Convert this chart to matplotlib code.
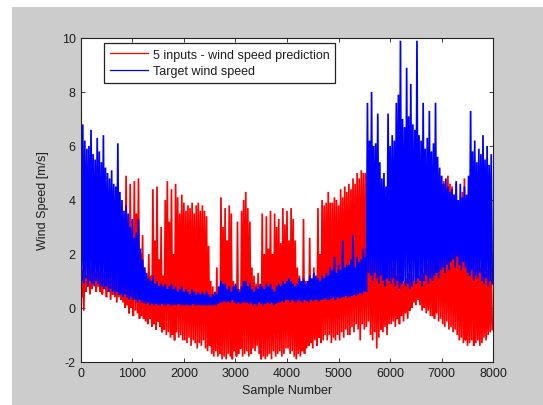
import numpy as np
import matplotlib
matplotlib.use("Agg")
import matplotlib.pyplot as plt
from matplotlib.patches import Rectangle

plt.rcParams['font.family'] = ['Liberation Sans', 'DejaVu Sans']
plt.rcParams['axes.unicode_minus'] = False

# ---- data (local maxima at k*40, local minima at k*40+20) ----
step = 40
pred_hi = [
    2.0, 1.4, 1.6, 1.2, 1.9, 1.5, 2.5, 1.3, 1.7, 1.4,
    1.8, 1.3, 1.6, 3.4, 1.5, 1.2, 1.6, 1.4, 1.5, 1.3,
    2.2, 1.8, 4.9, 3.0, 4.6, 2.5, 4.7, 3.5, 4.8, 2.0,
    2.7, 1.5, 1.0, 2.0, 1.2, 4.4, 2.5, 4.5, 1.8, 3.0,
    1.2, 4.0, 4.7, 3.2, 4.4, 2.0, 4.6, 4.1, 3.5, 4.2,
    3.9, 3.6, 3.8, 3.7, 3.9, 3.5, 3.8, 3.9, 3.6, 3.8,
    3.6, 3.4, 2.3, 1.0, 0.8, 0.6, 1.5, 0.7, 4.1, 3.0,
    3.7, 2.5, 3.8, 3.5, 1.0, 0.8, 3.2, 0.7, 3.6, 4.0,
    4.3, 3.7, 3.2, 1.5, 1.2, 0.9, 1.3, 0.8, 3.5, 2.0,
    3.4, 2.2, 3.6, 2.0, 3.5, 3.0, 3.3, 2.4, 3.7, 3.1,
    3.6, 2.5, 3.7, 3.3, 2.5, 1.5, 1.2, 0.8, 3.3, 1.0,
    1.0, 2.6, 0.9, 1.5, 0.9, 3.7, 2.0, 4.0, 3.8, 3.9,
    4.3, 3.9, 3.9, 4.1, 4.0, 3.8, 4.4, 4.1, 4.5, 4.3,
    4.6, 4.4, 4.8, 4.6, 5.0, 4.8, 5.1, 5.0, 5.0, 4.9,
    4.9, 4.7, 4.6, 4.8, 4.4, 4.0, 2.0, 1.6, 1.5, 2.2,
    2.0, 1.5, 1.8, 1.2, 3.3, 1.4, 1.2, 1.0, 1.1, 1.3,
    2.7, 1.2, 1.0, 1.4, 1.2, 1.5, 1.3, 2.0, 1.6, 2.2,
    3.0, 2.5, 4.8, 4.5, 4.9, 4.6, 4.7, 4.4, 4.9, 4.6,
    4.5, 4.2, 4.6, 3.5, 3.0, 4.3, 4.8, 2.5, 2.0, 3.0,
    4.8, 2.2, 2.0, 1.8, 1.5, 1.9, 1.6, 1.4, 1.6, 1.5,
]
pred_lo = [
    0.4, -0.1, 0.6, 0.8, 0.5, 0.7, 0.9, 0.6, 0.8, 0.6,
    0.5, 0.7, 0.4, 0.6, 0.3, 0.5, 0.4, 0.2, 0.4, 0.3,
    0.2, 0.0, 0.1, -0.2, 0.0, -0.3, -0.1, -0.2, -0.4, -0.3,
    -0.4, -0.5, -0.6, -0.4, -0.7, -0.6, -0.8, -0.5, -0.7, -0.9,
    -0.8, -1.0, -0.9, -1.1, -1.0, -1.2, -0.9, -1.1, -1.0, -1.2,
    -1.2, -1.3, -1.1, -1.4, -1.2, -1.3, -1.5, -1.3, -1.4, -1.2,
    -1.5, -1.6, -1.4, -1.7, -1.8, -1.6, -1.8, -1.7, -1.9, -1.8,
    -1.9, -1.7, -1.8, -1.9, -1.6, -1.8, -1.7, -1.5, -1.8, -1.7,
    -1.6, -1.8, -1.7, -1.5, -1.6, -1.4, -1.7, -1.9, -1.8, -1.9,
    -1.8, -1.7, -1.9, -1.6, -1.8, -1.7, -1.6, -1.8, -1.7, -1.5,
    -1.5, -1.7, -1.6, -1.8, -1.9, -1.7, -1.8, -1.6, -1.7, -1.5,
    -1.4, -1.3, -1.5, -1.2, -1.4, -1.1, -1.3, -1.2, -1.0, -1.2,
    -1.0, -1.3, -1.1, -1.2, -1.0, -1.2, -0.9, -1.1, -0.8, -1.0,
    -1.0, -0.7, -0.9, -0.6, -0.8, -1.2, -0.6, -0.8, -0.7, -0.5,
    -1.0, -1.2, -0.9, -1.5, -1.1, -0.8, -0.9, -0.7, -1.0, -0.6,
    -0.6, -0.5, -0.7, -0.4, -0.6, -0.3, -0.5, -0.2, -0.4, -0.1,
    0.0, 0.2, 0.1, 0.3, 0.1, -0.1, 0.0, -0.2, -0.1, -0.3,
    -0.3, -0.4, -0.2, -0.5, -0.4, -0.6, -0.7, -0.5, -0.8, -0.7,
    -0.9, -0.8, -1.0, -1.2, -1.1, -1.3, -1.2, -1.4, -1.3, -1.2,
    -1.4, -1.3, -1.2, -1.4, -1.3, -1.1, -1.2, -1.0, -0.9, -0.8,
]
targ_hi = [
    7.5, 6.8, 6.2, 5.9, 6.0, 6.6, 5.7, 5.5, 6.3, 5.8,
    5.4, 6.4, 5.2, 5.0, 4.8, 5.1, 4.6, 4.5, 6.1, 4.3,
    4.0, 3.6, 3.8, 3.5, 3.0, 3.3, 2.6, 2.8, 3.3, 2.2,
    1.8, 1.5, 1.3, 1.1, 1.0, 1.2, 0.9, 1.0, 0.8, 0.9,
    0.8, 0.9, 0.7, 0.8, 0.9, 0.7, 0.8, 0.6, 0.7, 0.8,
    0.6, 0.7, 0.6, 0.5, 0.7, 0.6, 0.5, 0.6, 0.5, 0.6,
    0.5, 0.6, 0.5, 0.4, 0.5, 0.6, 0.5, 0.8, 1.0, 0.9,
    0.9, 0.7, 0.8, 0.6, 0.8, 0.9, 0.7, 0.6, 0.8, 1.0,
    1.0, 0.8, 0.9, 0.7, 0.6, 0.8, 0.7, 0.9, 0.8, 0.7,
    0.9, 0.8, 0.9, 0.7, 0.6, 0.8, 0.9, 0.8, 1.0, 0.9,
    1.0, 1.1, 1.0, 0.9, 0.8, 0.9, 1.1, 1.0, 1.1, 0.9,
    1.0, 1.2, 1.1, 1.3, 1.2, 1.1, 1.0, 1.2, 1.1, 1.3,
    1.2, 1.5, 1.4, 1.9, 1.3, 1.6, 1.4, 2.5, 1.5, 1.6,
    1.6, 1.8, 2.7, 1.5, 1.9, 1.7, 1.8, 2.2, 1.9, 7.6,
    6.2, 8.0, 6.0, 6.1, 7.2, 5.4, 4.8, 5.0, 4.5, 7.2,
    6.0, 6.4, 6.2, 7.6, 7.9, 9.9, 7.0, 6.7, 8.9, 7.1,
    8.3, 6.8, 6.6, 9.9, 6.4, 6.2, 7.6, 5.9, 6.3, 7.3,
    5.8, 6.1, 7.6, 5.6, 5.2, 4.9, 4.6, 4.8, 4.5, 4.3,
    4.4, 4.2, 4.7, 4.0, 4.6, 4.1, 4.5, 4.2, 4.9, 7.3,
    5.8, 6.2, 5.4, 5.9, 5.7, 6.4, 5.5, 6.0, 5.3, 5.7,
]
targ_lo = [
    1.0, 0.9, 1.1, 0.8, 1.0, 0.9, 0.8, 1.0, 0.9, 0.8,
    0.8, 0.7, 0.8, 0.6, 0.7, 0.6, 0.5, 0.6, 0.5, 0.5,
    0.4, 0.5, 0.4, 0.3, 0.4, 0.3, 0.3, 0.2, 0.3, 0.2,
    0.2, 0.15, 0.2, 0.1, 0.15, 0.1, 0.15, 0.1, 0.1, 0.15,
    0.1, 0.1, 0.15, 0.1, 0.1, 0.12, 0.1, 0.15, 0.1, 0.1,
    0.1, 0.12, 0.1, 0.1, 0.15, 0.1, 0.1, 0.12, 0.1, 0.1,
    0.1, 0.1, 0.12, 0.1, 0.1, 0.1, 0.15, 0.2, 0.2, 0.25,
    0.2, 0.25, 0.2, 0.3, 0.2, 0.15, 0.2, 0.15, 0.2, 0.2,
    0.2, 0.15, 0.2, 0.1, 0.15, 0.1, 0.2, 0.15, 0.1, 0.15,
    0.2, 0.15, 0.2, 0.1, 0.15, 0.2, 0.2, 0.25, 0.2, 0.3,
    0.3, 0.2, 0.3, 0.25, 0.2, 0.3, 0.25, 0.2, 0.3, 0.25,
    0.2, 0.3, 0.25, 0.3, 0.3, 0.25, 0.3, 0.3, 0.35, 0.3,
    0.3, 0.35, 0.4, 0.3, 0.4, 0.35, 0.4, 0.4, 0.45, 0.4,
    0.4, 0.45, 0.5, 0.45, 0.5, 0.55, 0.5, 0.6, 0.6, 1.3,
    1.2, 1.0, 1.3, 1.1, 0.9, 1.2, 1.0, 0.8, 1.1, 1.0,
    0.9, 1.1, 0.8, 1.0, 0.7, 0.9, 1.0, 0.8, 0.9, 0.7,
    0.8, 1.0, 0.9, 1.1, 1.0, 0.8, 1.0, 1.2, 0.9, 1.1,
    1.0, 1.2, 1.3, 1.1, 1.4, 1.5, 1.3, 1.6, 1.4, 1.7,
    1.8, 1.5, 1.9, 1.6, 1.4, 1.7, 1.5, 1.3, 1.2, 1.4,
    1.0, 1.2, 1.1, 1.3, 1.0, 0.9, 1.1, 0.8, 1.0, 0.9,
]
labels = ["5 inputs - wind speed prediction", "Target wind speed"]
xticks = [0, 1000, 2000, 3000, 4000, 5000, 6000, 7000, 8000]
yticks = [-2, 0, 2, 4, 6, 8, 10]


def interleave(hi, lo):
    n = len(hi)
    x = np.empty(2 * n)
    y = np.empty(2 * n)
    x[0::2] = np.arange(n) * step
    x[1::2] = np.arange(n) * step + step / 2
    y[0::2] = hi
    y[1::2] = lo
    return x, y


W, H = 543, 406
fig = plt.figure(figsize=(W / 100, H / 100), dpi=100, facecolor='white')
fig.patches.append(Rectangle((12 / W, 0), 1 - 12 / W, 1 - 8 / H,
                             transform=fig.transFigure, facecolor='#cccccc',
                             edgecolor='none', zorder=-10))

ax = fig.add_axes([80.7 / W, 1 - 363 / H, (493.3 - 80.7) / W, (363 - 39) / H])
ax.set_zorder(1)
ax.set_facecolor('white')

xp, yp = interleave(pred_hi, pred_lo)
xt, yt = interleave(targ_hi, targ_lo)
ax.plot(xp, yp, color='#ff0000', lw=1.25, label=labels[0], solid_joinstyle='bevel')
ax.plot(xt, yt, color='#0000ff', lw=1.25, label=labels[1], solid_joinstyle='bevel')

ax.set_xlim(0, 8000)
ax.set_ylim(-2, 10)
ax.set_xticks(xticks)
ax.set_yticks(yticks)
tc = '#1e1e1e'
ax.tick_params(direction='in', length=3, width=0.6, top=True, right=True,
               labelsize=9, colors=tc, pad=3.6)
for s in ax.spines.values():
    s.set_linewidth(0.8)
    s.set_color('#222222')

ax.set_xlabel("Sample Number", fontsize=9, color=tc)
ax.set_ylabel("Wind Speed [m/s]", fontsize=9, color=tc)
ax.xaxis.set_label_coords(0.5, -0.068)
ax.yaxis.set_label_coords(-0.078, 0.5)

leg = ax.legend(loc='upper left', bbox_to_anchor=(0.0565, 0.9846), borderaxespad=0,
                fancybox=False, framealpha=1, edgecolor='#222222', fontsize=9,
                handlelength=3.1, handletextpad=0.35, borderpad=0.45,
                labelspacing=0.35)
leg.get_frame().set_linewidth(0.9)
for line in leg.get_lines():
    line.set_linewidth(0.9)
for t in leg.get_texts():
    t.set_color(tc)

fig.savefig("out.png", dpi=100, facecolor=fig.get_facecolor())
